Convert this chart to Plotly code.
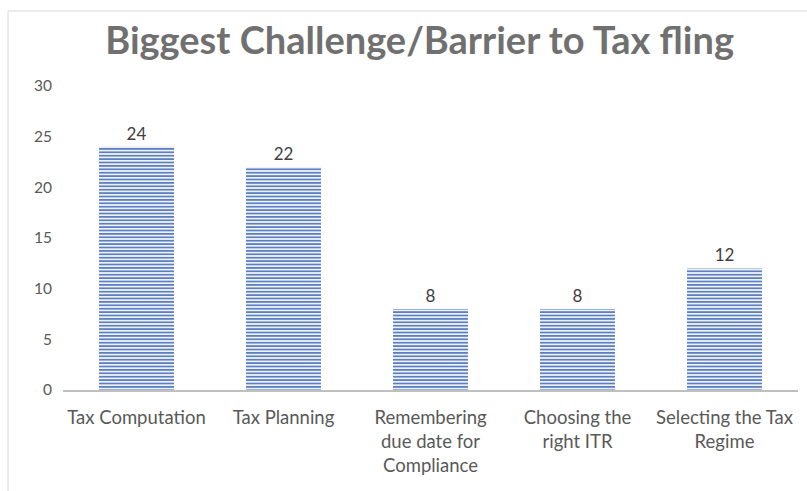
import plotly.graph_objects as go

# Survey results: biggest challenge when filing taxes
categories = [
    "Tax Computation",
    "Tax Planning",
    "Remembering<br>due date for<br>Compliance",
    "Choosing the<br>right ITR",
    "Selecting the Tax<br>Regime",
]
responses = [24, 22, 8, 8, 12]
y_ticks = [0, 5, 10, 15, 20, 25, 30]

FONT = "Lato"
TEXT_GREY = "#595959"
BAR_BLUE = "#5b7fc0"

fig = go.Figure(
    go.Bar(
        x=categories,
        y=responses,
        text=[str(v) for v in responses],
        textposition="outside",
        textfont=dict(family=FONT, size=17, color="#404040"),
        cliponaxis=False,
        marker=dict(
            color="white",
            line=dict(width=0),
            pattern=dict(shape="-", size=3.4, solidity=0.55,
                         fgcolor=BAR_BLUE, bgcolor="white",
                         fillmode="replace"),
        ),
    )
)

fig.update_layout(
    width=807,
    height=491,
    margin=dict(l=63, r=9, t=86, b=101),
    paper_bgcolor="white",
    plot_bgcolor="white",
    showlegend=False,
    bargap=0.49,
    title=dict(
        text="<b>Biggest Challenge/Barrier to Tax fling</b>",
        x=0.52, xanchor="center",
        y=0.918, yanchor="middle",
        font=dict(family=FONT, size=38, color="#707070"),
    ),
    font=dict(family=FONT, color=TEXT_GREY),
    shapes=[
        # chart frame (left and top edges visible)
        dict(type="rect", xref="paper", yref="paper",
             x0=-0.0748, x1=1.5, y0=-1.0, y1=1.2467,
             line=dict(color="#d9d9d9", width=1), layer="below"),
    ],
)

fig.update_xaxes(
    showline=True, linecolor="#bfbfbf", linewidth=2,
    showgrid=False, zeroline=False,
    ticks="outside", ticklen=10, tickcolor="rgba(0,0,0,0)",
    tickfont=dict(family=FONT, size=18.5, color=TEXT_GREY),
    tickangle=0,
)
fig.update_yaxes(
    range=[0, 30], tickvals=y_ticks,
    showline=False, showgrid=False, zeroline=False,
    ticks="outside", ticklen=7, tickcolor="rgba(0,0,0,0)",
    tickfont=dict(family=FONT, size=15.5, color=TEXT_GREY),
)

fig.write_html("out.html")
